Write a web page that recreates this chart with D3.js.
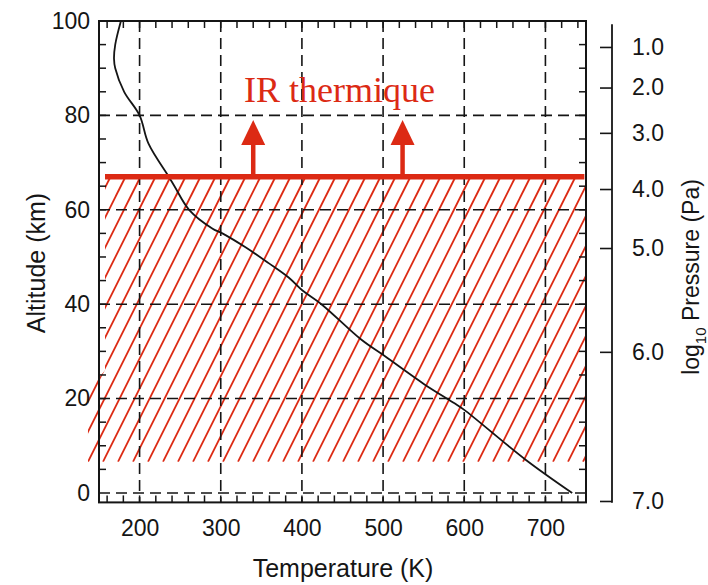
<!DOCTYPE html>
<html><head><meta charset="utf-8">
<script src="https://cdn.jsdelivr.net/npm/d3@7"></script>
<style>body{margin:0;background:#fff} svg{display:block}</style>
</head><body><svg id="c" width="708" height="585"></svg>
<script>
// ---- data ----
const altitude    = [100, 95, 92, 90, 85, 80, 74, 67, 65, 60, 56, 55, 52, 48.7, 45.6, 43, 40, 32.5, 29, 23, 19, 17.6, 7, 0];
const temperature = [177, 170, 168.5, 170, 181, 200, 211, 236, 243, 261, 290, 302, 331, 359, 384, 400, 424, 473, 502, 551, 588, 600, 676, 733];
const tempTicks = [200, 300, 400, 500, 600, 700];
const altTicks = [0, 20, 40, 60, 80, 100];
const gridAlts = [0, 20, 40, 60, 80];
const pressureLabels = ["1.0", "2.0", "3.0", "4.0", "5.0", "6.0", "7.0"];
const pressureTickAlt = [94.5, 85.9, 76.3, 64.4, 51.9, 29.9, -1.7];
const irAlt = 67;            // top of the layer opaque to thermal IR
const hatchBottomAlt = 6.6;
const arrowTemps = [340, 524];
const arrowTipAlt = 79;
const irLabel = "IR thermique";

// ---- setup ----
const svg = d3.select("#c");
const RED = "#dc2a14", INK = "#151515";
const SANS = "'Liberation Sans', Arial, Helvetica, sans-serif";
const x = d3.scaleLinear().domain([150, 750]).range([99, 586]);
const y = d3.scaleLinear().domain([-2, 100]).range([502.4, 21]);
svg.append("rect").attr("width", 708).attr("height", 585).attr("fill", "#fff");

// ---- hatching (clipped region) ----
const hatchPoly = [[157.4, irAlt], [750, irAlt], [750, hatchBottomAlt], [136.4, hatchBottomAlt], [136.4, 21.5], [157.4, 26]];
svg.append("clipPath").attr("id", "hc").append("polygon")
  .attr("points", hatchPoly.map(d => [x(d[0]), y(d[1])].join(",")).join(" "));
const yb = y(hatchBottomAlt), yt = y(irAlt), H = yb - yt;
const x0 = x(136.4);
svg.append("g").attr("clip-path", "url(#hc)").selectAll("line")
  .data(d3.range(-12, 36)).join("line")
  .attr("x1", k => x0 + 15 * k).attr("y1", yb)
  .attr("x2", k => x0 + 15 * k + H / 2).attr("y2", yt)
  .attr("stroke", RED).attr("stroke-width", 1.8);

// ---- grid ----
const grid = svg.append("g").attr("stroke", INK).attr("stroke-width", 1.6).attr("stroke-dasharray", "11,6");
grid.selectAll(".v").data(tempTicks).join("line")
  .attr("x1", d => x(d)).attr("x2", d => x(d)).attr("y1", y(100)).attr("y2", y(-2));
grid.selectAll(".h").data(gridAlts).join("line")
  .attr("x1", x(150)).attr("x2", x(750)).attr("y1", d => y(d)).attr("y2", d => y(d));

// ---- frame & minor ticks ----
svg.append("rect").attr("x", x(150)).attr("y", y(100)).attr("width", x(750) - x(150)).attr("height", y(-2) - y(100))
  .attr("fill", "none").attr("stroke", INK).attr("stroke-width", 2);
const tk = svg.append("g").attr("stroke", INK).attr("stroke-width", 1.5);
const tT = d3.range(160, 750, 20);
tk.selectAll(".b").data(tT).join("line").attr("x1", d => x(d)).attr("x2", d => x(d)).attr("y1", y(-2)).attr("y2", y(-2) - 7);
tk.selectAll(".t").data(tT).join("line").attr("x1", d => x(d)).attr("x2", d => x(d)).attr("y1", y(100)).attr("y2", y(100) + 7);
const tA = d3.range(5, 100, 5);
tk.selectAll(".l").data(tA).join("line").attr("y1", d => y(d)).attr("y2", d => y(d)).attr("x1", x(150)).attr("x2", x(150) + 7);
tk.selectAll(".r").data(tA).join("line").attr("y1", d => y(d)).attr("y2", d => y(d)).attr("x1", x(750)).attr("x2", x(750) - 7);

// ---- temperature profile ----
const prof = altitude.map((a, i) => ({a, t: temperature[i]}));
svg.append("path").datum(prof)
  .attr("d", d3.line().x(d => x(d.t)).y(d => y(d.a)).curve(d3.curveCatmullRom.alpha(0.5)))
  .attr("fill", "none").attr("stroke", INK).attr("stroke-width", 1.8);

// ---- red IR line, arrows, label ----
svg.append("line").attr("x1", x(157.4)).attr("x2", x(748)).attr("y1", y(irAlt)).attr("y2", y(irAlt))
  .attr("stroke", RED).attr("stroke-width", 5.5);
const ar = svg.append("g").selectAll("g").data(arrowTemps).join("g");
ar.append("line").attr("x1", d => x(d)).attr("x2", d => x(d)).attr("y1", y(irAlt)).attr("y2", y(arrowTipAlt) + 22)
  .attr("stroke", RED).attr("stroke-width", 4.5);
ar.append("path").attr("d", d => `M${x(d)},${y(arrowTipAlt)} L${x(d) + 12},${y(arrowTipAlt) + 25} L${x(d) - 12},${y(arrowTipAlt) + 25} Z`)
  .attr("fill", RED);
svg.append("text").attr("x", x(328.7)).attr("y", y(82.9)).text(irLabel)
  .attr("fill", RED).attr("font-family", "'Liberation Serif', 'Times New Roman', serif").attr("font-size", 36);

// ---- axes labels ----
const bAx = svg.append("g").attr("transform", `translate(0,${y(-2)})`)
  .call(d3.axisBottom(x).tickValues(tempTicks).tickSize(0).tickPadding(17));
const lAx = svg.append("g").attr("transform", `translate(${x(150)},0)`)
  .call(d3.axisLeft(y).tickValues(altTicks).tickSize(0).tickPadding(9));
const rAx = svg.append("g").attr("transform", "translate(612,0)")
  .call(d3.axisRight(y).tickValues(pressureTickAlt).tickFormat((d, i) => pressureLabels[i]).tickSizeInner(-12).tickSizeOuter(0).tickPadding(20));
[bAx, lAx, rAx].forEach(g => {
  g.select(".domain").remove();
  g.selectAll("text").attr("font-family", SANS).attr("font-size", 23).attr("fill", INK);
});
rAx.selectAll(".tick line").attr("stroke", INK).attr("stroke-width", 1.6);
svg.append("line").attr("x1", 612).attr("x2", 612).attr("y1", y(99.3)).attr("y2", y(-2.1))
  .attr("stroke", INK).attr("stroke-width", 1.8);

svg.append("text").attr("x", 343).attr("y", 577).attr("text-anchor", "middle")
  .attr("font-family", SANS).attr("font-size", 25).attr("fill", INK).text("Temperature (K)");
svg.append("text").attr("transform", "translate(45,263) rotate(-90)").attr("text-anchor", "middle")
  .attr("font-family", SANS).attr("font-size", 25).attr("fill", INK).text("Altitude (km)");
const pl = svg.append("text").attr("transform", "translate(699,277) rotate(-90)").attr("text-anchor", "middle")
  .attr("font-family", SANS).attr("font-size", 23).attr("fill", INK);
pl.append("tspan").text("log");
pl.append("tspan").text("10").attr("font-size", 15).attr("dy", 7);
pl.append("tspan").text(" Pressure (Pa)").attr("dy", -7);
</script></body></html>
